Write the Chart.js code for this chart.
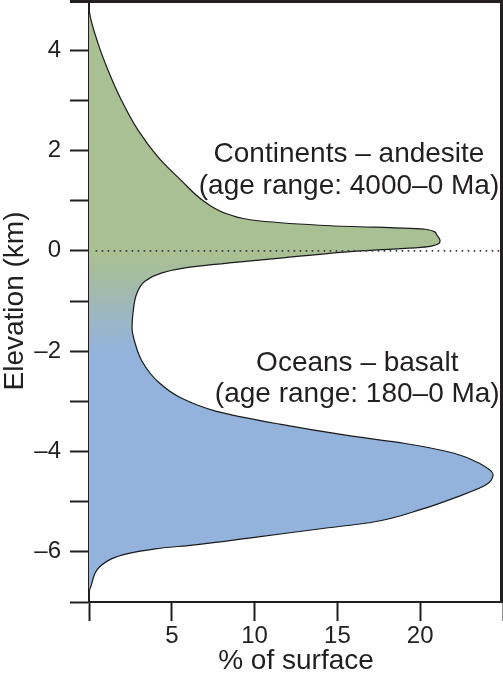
<!DOCTYPE html>
<html>
<head>
<meta charset="utf-8">
<script src="https://cdn.jsdelivr.net/npm/chart.js@4.4.1/dist/chart.umd.min.js"></script>
<style>
  html, body { margin: 0; padding: 0; background: #fff; }
  #wrap { width: 503px; height: 681px; position: relative; }
</style>
</head>
<body>
<div id="wrap"><canvas id="hypsoChart"></canvas></div>
<script>
// elevation (km) and the matching share of surface (%) along the curve
const elevationKm = [4.92, 4.73, 4.13, 3.6, 3.0, 2.4, 1.87, 1.4, 1.0, 0.73, 0.6, 0.5, 0.43, 0.32, 0.2, 0.09,
  -0.02, -0.14, -0.34, -0.44, -0.6, -0.84, -1.2, -1.54, -1.86, -2.2, -2.62, -2.94, -3.2, -3.46, -3.68, -3.84,
  -4.04, -4.24, -4.46, -4.66, -4.92, -5.15, -5.41, -5.54, -5.71, -5.86, -5.94, -6.14, -6.78];
const surfacePct = [0, 0.04, 0.55, 1.15, 1.96, 2.97, 4.17, 5.58, 6.9, 8.4, 10.2, 14.6, 20.3, 21.0, 21.2, 20.6,
  15.6, 11.7, 5.8, 4.4, 3.4, 2.9, 2.67, 2.6, 2.8, 3.2, 4.2, 5.6, 7.7, 11.6, 15.6, 19.1,
  22.1, 23.6, 24.4, 24.0, 22.1, 20.1, 17.1, 14.0, 10.0, 6.4, 4.0, 1.35, 0];

// sea level reference (dotted)
const seaLevelPct = [0.4, 25];
const seaLevelKm = [0, 0];

// tick labels
const xTickLabels = [5, 10, 15, 20];
const yTickLabels = [4, 2, 0, -2, -4, -6];

// text labels
const continentText = ['Continents \u2013 andesite', '(age range: 4000\u20130 Ma)'];
const oceanText = ['Oceans \u2013 basalt', '(age range: 180\u20130 Ma)'];

const ink = '#231f20';
const fontFamily = '"Liberation Sans", Arial, Helvetica, sans-serif';

const ctx = document.getElementById('hypsoChart').getContext('2d');

// green above sea level fading into blue below
function shapeFill(c) {
    const chart = c.chart;
    if (!chart.chartArea) return '#a9bf94';
    const y = chart.scales.y;
    const g = chart.ctx.createLinearGradient(0, y.getPixelForValue(-0.15), 0, y.getPixelForValue(-2.0));
    g.addColorStop(0, '#a9bf94');
    g.addColorStop(0.5, '#9fb8b8');
    g.addColorStop(1, '#93b3dd');
    return g;
}

// frame (top + right) and the two text blocks
const extrasPlugin = {
    id: 'extras',
    afterDatasetsDraw(chart) {
        const c = chart.ctx;
        const area = chart.chartArea;
        const xs = chart.scales.x, ys = chart.scales.y;
        c.save();
        c.strokeStyle = ink;
        c.lineWidth = 3;
        c.beginPath();
        c.moveTo(area.left - 19, area.top + 1.5);
        c.lineTo(area.right - 1.5, area.top + 1.5);
        c.lineTo(area.right - 1.5, area.bottom);
        c.stroke();

        c.fillStyle = ink;
        c.font = '28px ' + fontFamily;
        c.textAlign = 'center';
        c.textBaseline = 'alphabetic';
        const cx1 = xs.getPixelForValue(15.7);
        c.fillText(continentText[0], cx1, ys.getPixelForValue(1.78));
        c.fillText(continentText[1], cx1, ys.getPixelForValue(1.14));
        const cx2 = xs.getPixelForValue(16.2);
        c.fillText(oceanText[0], cx2, ys.getPixelForValue(-2.4));
        c.fillText(oceanText[1], cx2, ys.getPixelForValue(-3.02));
        c.restore();
    }
};

const hypsoChart = new Chart(ctx, {
    type: 'line',
    data: {
        datasets: [{
            label: 'hypsometry',
            data: elevationKm.map((e, i) => ({ x: surfacePct[i], y: e })),
            borderColor: '#1a1a1a',
            borderWidth: 1.2,
            backgroundColor: shapeFill,
            fill: 'origin',
            cubicInterpolationMode: 'monotone',
            pointRadius: 0,
            order: 2,
        }, {
            label: 'sea level',
            data: seaLevelPct.map((p, i) => ({ x: p, y: seaLevelKm[i] })),
            borderColor: '#3a3a3a',
            borderWidth: 1.6,
            borderDash: [1.6, 4.4],
            fill: false,
            pointRadius: 0,
            order: 1,
        }]
    },
    options: {
        indexAxis: 'y',
        responsive: true,
        maintainAspectRatio: false,
        animation: false,
        layout: { padding: 0 },
        plugins: {
            legend: { display: false },
            tooltip: { enabled: false },
        },
        scales: {
            x: {
                type: 'linear',
                position: 'bottom',
                min: 0,
                max: 25,
                ticks: {
                    stepSize: 5,
                    autoSkip: false,
                    maxRotation: 0,
                    padding: 1,
                    color: ink,
                    font: { family: fontFamily, size: 24, lineHeight: 1.2 },
                    callback: (v) => xTickLabels.includes(v) ? String(v) : '',
                },
                grid: {
                    drawOnChartArea: false,
                    drawTicks: true,
                    tickLength: 19,
                    tickWidth: 2,
                    tickColor: ink,
                },
                border: { display: true, color: ink, width: 2 },
                title: {
                    display: true,
                    text: '% of surface',
                    color: ink,
                    font: { family: fontFamily, size: 28, lineHeight: 1 },
                    padding: { top: 0, bottom: 6 },
                },
                afterFit(s) { s.height = 79; s.paddingLeft = 0; s.paddingRight = 0; },
            },
            y: {
                type: 'linear',
                position: 'left',
                min: -7,
                max: 5,
                ticks: {
                    stepSize: 1,
                    autoSkip: false,
                    padding: 9,
                    color: ink,
                    font: { family: fontFamily, size: 24 },
                    callback: (v) => yTickLabels.includes(v) ? String(v).replace('-', '\u2013') : '',
                },
                grid: {
                    drawOnChartArea: false,
                    drawTicks: true,
                    tickLength: 19,
                    tickWidth: 2,
                    tickColor: ink,
                },
                border: { display: true, color: ink, width: 2 },
                title: {
                    display: true,
                    text: 'Elevation (km)',
                    color: ink,
                    font: { family: fontFamily, size: 28, lineHeight: 1 },
                    padding: { top: 1, bottom: 0 },
                },
                afterFit(s) { s.width = 89; s.paddingTop = 0; s.paddingBottom = 0; },
            }
        }
    },
    plugins: [extrasPlugin],
});
</script>
</body>
</html>
